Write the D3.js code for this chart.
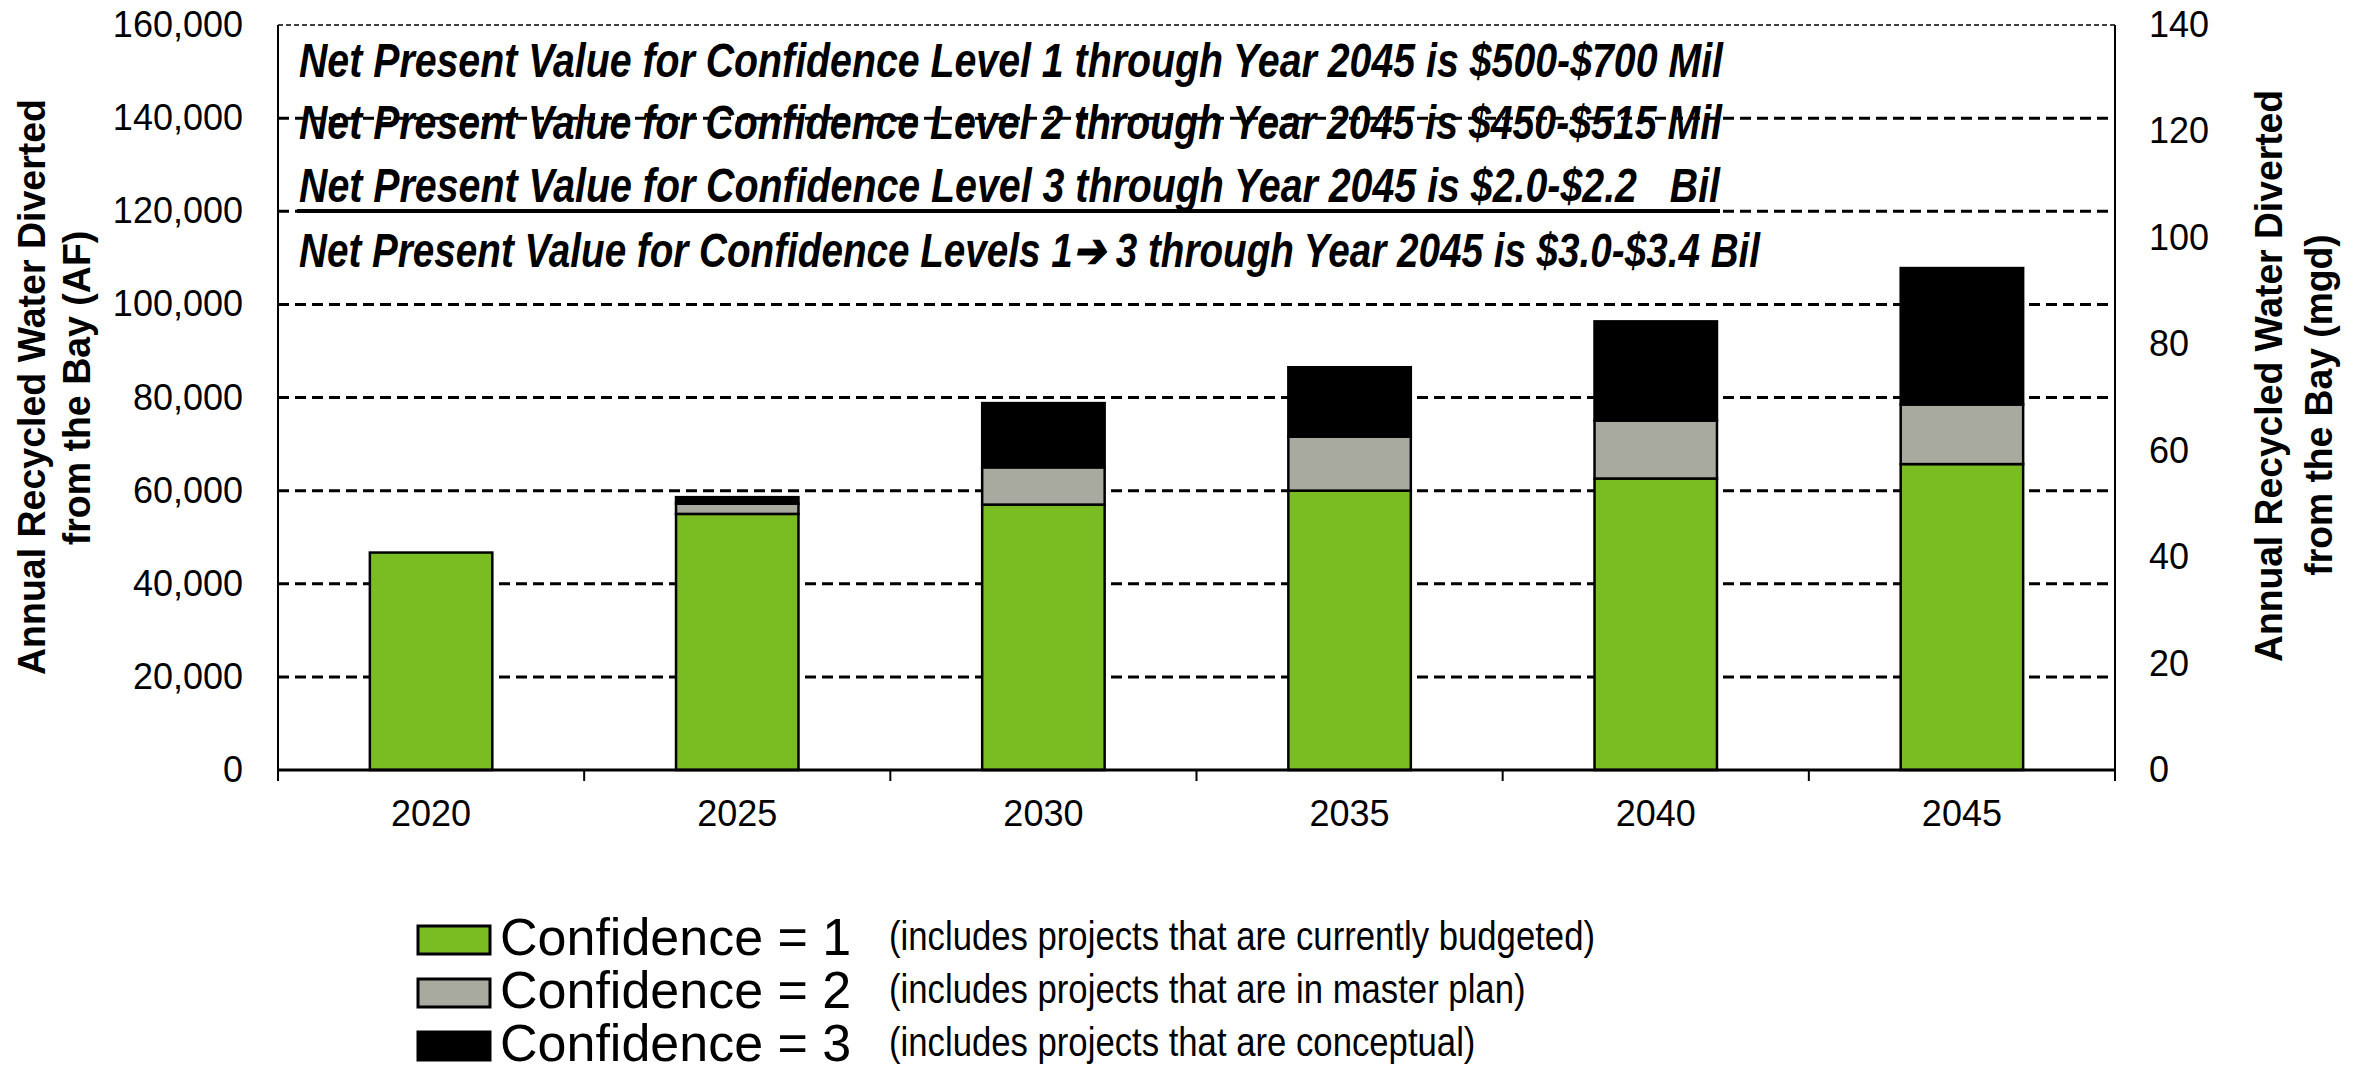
<!DOCTYPE html>
<html>
<head>
<meta charset="utf-8">
<script src="https://cdn.jsdelivr.net/npm/d3@7"></script>
<style>
  body { margin: 0; background: #fff; }
  text { font-family: "Liberation Sans", Arial, sans-serif; }
</style>
</head>
<body>
<div id="chart"></div>
<script>
// data (AF per year)
const years = ['2020', '2025', '2030', '2035', '2040', '2045']
const conf1 = [46700, 55000, 57000, 60000, 62600, 65700]
const conf2 = [0, 2200, 8000, 11600, 12450, 12800]
const conf3 = [0, 1400, 13800, 14900, 21300, 29300]
const leftTicks = [0, 20000, 40000, 60000, 80000, 100000, 120000, 140000, 160000]
const rightTicks = [0, 20, 40, 60, 80, 100, 120, 140]
const seriesKeys = ['c1', 'c2', 'c3']
const seriesColors = ['#7abd22', '#a8a99f', '#000000']
const npvLines = [
    'Net Present Value for Confidence Level 1 through Year 2045 is $500-$700 Mil',
    'Net Present Value for Confidence Level 2 through Year 2045 is $450-$515 Mil',
    'Net Present Value for Confidence Level 3 through Year 2045 is $2.0-$2.2   Bil',
    'Net Present Value for Confidence Levels 1\u2794 3 through Year 2045 is $3.0-$3.4 Bil'
]
const npvWidths = [1424, 1423, 1421, 1461]
const legendNames = ['Confidence = 1', 'Confidence = 2', 'Confidence = 3']
const legendNotes = [
    '(includes projects that are currently budgeted)',
    '(includes projects that are in master plan)',
    '(includes projects that are conceptual)'
]
const leftTitle = ['Annual Recycled Water Diverted', 'from the Bay (AF)']
const rightTitle = ['Annual Recycled Water Diverted', 'from the Bay (mgd)']

const width = 2354
const height = 1072
const plot = { left: 278, right: 2115, top: 25, bottom: 770 }

const svg = d3.select('#chart').append('svg')
    .attr('width', width)
    .attr('height', height)
    .attr('viewBox', `0 0 ${width} ${height}`)

const x = d3.scaleBand()
    .domain(years)
    .range([plot.left, plot.right])
    .paddingInner(0.6)
    .paddingOuter(0.3)
const yL = d3.scaleLinear().domain([0, 160000]).range([plot.bottom, plot.top])
const yR = d3.scaleLinear().domain([0, 140]).range([plot.bottom, plot.top])

// dashed grid
svg.append('g')
    .selectAll('line')
    .data(leftTicks.filter(d => d > 0))
    .join('line')
    .attr('x1', plot.left)
    .attr('x2', plot.right)
    .attr('y1', d => yL(d))
    .attr('y2', d => yL(d))
    .attr('stroke', '#000')
    .attr('stroke-width', d => d === 160000 ? 1.5 : 3)
    .attr('stroke-dasharray', d => d === 160000 ? '5,3' : '11,6')

// stacked bars
const rows = years.map((y, i) => ({ year: y, c1: conf1[i], c2: conf2[i], c3: conf3[i] }))
const stacked = d3.stack().keys(seriesKeys)(rows)

svg.append('g')
    .selectAll('g')
    .data(stacked)
    .join('g')
    .attr('fill', (d, i) => seriesColors[i])
    .selectAll('rect')
    .data(d => d.filter(s => s[1] - s[0] > 0))
    .join('rect')
    .attr('x', d => x(d.data.year))
    .attr('width', x.bandwidth())
    .attr('y', d => yL(d[1]))
    .attr('height', d => yL(d[0]) - yL(d[1]))
    .attr('stroke', '#000')
    .attr('stroke-width', 2.5)

// axes lines
const axisG = svg.append('g').attr('stroke', '#000').attr('stroke-width', 2)
axisG.append('line')
    .attr('x1', plot.left).attr('x2', plot.left)
    .attr('y1', plot.top).attr('y2', plot.bottom + 10)
axisG.append('line')
    .attr('x1', plot.right).attr('x2', plot.right)
    .attr('y1', plot.top).attr('y2', plot.bottom + 10)
axisG.append('line')
    .attr('x1', plot.left).attr('x2', plot.right)
    .attr('y1', plot.bottom).attr('y2', plot.bottom)
    .attr('stroke-width', 3)
// category boundary ticks
const edges = years.map(d => x(d) - x.step() * x.paddingOuter()).concat([plot.right])
axisG.selectAll('.edge')
    .data(edges)
    .join('line')
    .attr('x1', d => d).attr('x2', d => d)
    .attr('y1', plot.bottom).attr('y2', plot.bottom + 11)

// tick labels
const styleTicks = g => {
    g.select('.domain').remove()
    g.selectAll('text').attr('font-size', 36).attr('fill', '#000')
        .style('font-family', '"Liberation Sans", Arial, sans-serif')
}
svg.append('g')
    .attr('transform', `translate(0, ${plot.bottom})`)
    .call(d3.axisBottom(x).tickSize(0).tickPadding(30))
    .call(styleTicks)
svg.append('g')
    .attr('transform', `translate(${plot.left}, 0)`)
    .call(d3.axisLeft(yL).tickValues(leftTicks).tickFormat(d3.format(',')).tickSize(0).tickPadding(35))
    .call(styleTicks)
svg.append('g')
    .attr('transform', `translate(${plot.right}, 0)`)
    .call(d3.axisRight(yR).tickValues(rightTicks).tickSize(0).tickPadding(34))
    .call(styleTicks)

// squeeze a group of texts so the first one gets the given width
const squeeze = (sel, firstWidth) => {
    const nodes = sel.nodes()
    const k = firstWidth / nodes[0].getComputedTextLength()
    nodes.forEach(n => {
        const w = n.getComputedTextLength()
        d3.select(n).attr('textLength', w * k).attr('lengthAdjust', 'spacingAndGlyphs')
    })
}
const narrow = '"Liberation Sans Narrow", "Liberation Sans", Arial, sans-serif'

// axis titles
const titleY = svg.append('g')
const leftT = titleY.selectAll('.lt')
    .data(leftTitle)
    .join('text')
    .attr('class', 'lt')
    .attr('transform', (d, i) => `translate(${[45, 90][i]}, ${[387, 388][i]}) rotate(-90)`)
    .attr('text-anchor', 'middle')
    .attr('font-size', 38)
    .attr('font-weight', 'bold')
    .style('font-family', narrow)
    .text(d => d)
squeeze(leftT, 576)
const rightT = titleY.selectAll('.rt')
    .data(rightTitle)
    .join('text')
    .attr('class', 'rt')
    .attr('transform', (d, i) => `translate(${[2282, 2332][i]}, ${[376, 405][i]}) rotate(-90)`)
    .attr('text-anchor', 'middle')
    .attr('font-size', 38)
    .attr('font-weight', 'bold')
    .style('font-family', narrow)
    .text(d => d)
squeeze(rightT, 572)

// net present value notes
svg.append('g').selectAll('text')
    .data(npvLines)
    .join('text')
    .attr('x', 299)
    .attr('y', (d, i) => [77, 139, 202, 267][i])
    .attr('font-size', 48)
    .attr('font-weight', 'bold')
    .attr('font-style', 'italic')
    .style('font-family', narrow)
    .style('white-space', 'pre')
    .attr('textLength', (d, i) => npvWidths[i])
    .attr('lengthAdjust', 'spacingAndGlyphs')
    .text(d => d)
// underline of the third note
svg.append('line')
    .attr('x1', 297)
    .attr('x2', 299 + npvWidths[2])
    .attr('y1', 211).attr('y2', 211)
    .attr('stroke', '#000')
    .attr('stroke-width', 4)

// legend
const legend = svg.append('g')
const legendTop = [926, 979, 1032]
legend.selectAll('rect')
    .data(seriesColors)
    .join('rect')
    .attr('x', 418)
    .attr('y', (d, i) => legendTop[i])
    .attr('width', 72)
    .attr('height', 28)
    .attr('fill', d => d)
    .attr('stroke', '#000')
    .attr('stroke-width', 3)
legend.selectAll('.name')
    .data(legendNames)
    .join('text')
    .attr('class', 'name')
    .attr('x', 500)
    .attr('y', (d, i) => legendTop[i] + 29)
    .attr('font-size', 52)
    .text(d => d)
const notes = legend.selectAll('.note')
    .data(legendNotes)
    .join('text')
    .attr('class', 'note')
    .attr('x', 889)
    .attr('y', (d, i) => legendTop[i] + 24)
    .attr('font-size', 40)
    .style('font-family', narrow)
    .text(d => d)
squeeze(notes, 706)
</script>
</body>
</html>
